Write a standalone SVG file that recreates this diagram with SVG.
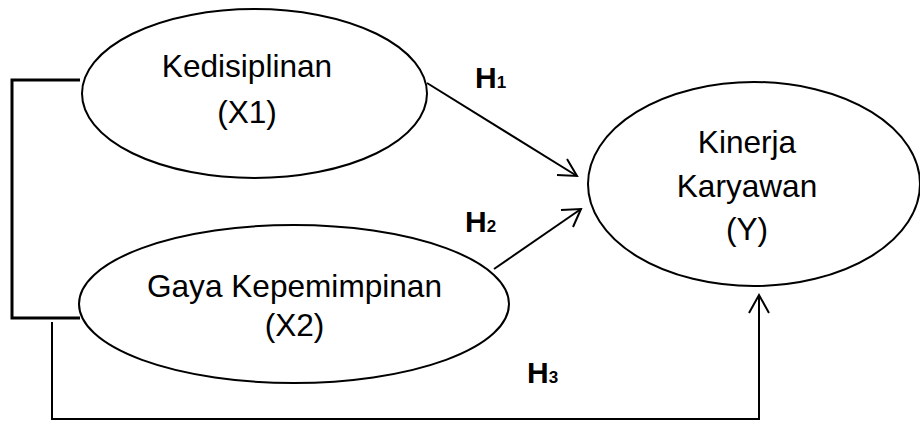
<svg xmlns="http://www.w3.org/2000/svg" width="920" height="421" viewBox="0 0 920 421">
<style>
.node{fill:#fff;stroke:#000;stroke-width:2}
.lbl{font-family:"Liberation Sans",Arial,sans-serif;font-size:31.6px;fill:#000;text-anchor:middle}
.h{font-family:"Liberation Sans",Arial,sans-serif;font-weight:bold;font-size:30px;fill:#000}
.sub{font-size:17px}
.ln{fill:none;stroke:#000;stroke-width:2}
.br{fill:none;stroke:#000;stroke-width:3}
</style>
<rect width="920" height="421" fill="#fff"/>
<g id="connectors">
<polyline class="br" points="80,80 12,80 12,318 80,318"/>
<polyline class="ln" points="52,322 52,419 759,419 759,296"/>
<polyline class="ln" points="749,313 759,295 769,313"/>
<line class="ln" x1="427" y1="83" x2="577" y2="176"/>
<polyline class="ln" points="557,175 577,176 567,159"/>
<line class="ln" x1="494" y1="269" x2="581" y2="209"/>
<polyline class="ln" points="561,210 581,209 573,227"/>
</g>
<g id="node-x1">
<ellipse class="node" cx="254.5" cy="93.5" rx="172.5" ry="84.5"/>
<text class="lbl" x="247" y="77">Kedisiplinan</text>
<text class="lbl" x="247" y="123">(X1)</text>
</g>
<g id="node-x2">
<ellipse class="node" cx="294" cy="304" rx="215" ry="79"/>
<text class="lbl" x="294.5" y="297">Gaya Kepemimpinan</text>
<text class="lbl" x="294.5" y="336">(X2)</text>
</g>
<g id="node-y">
<ellipse class="node" cx="754" cy="184" rx="166" ry="102"/>
<text class="lbl" x="747" y="153">Kinerja</text>
<text class="lbl" x="747" y="197">Karyawan</text>
<text class="lbl" x="747" y="240">(Y)</text>
</g>
<g id="labels">
<text class="h" x="475" y="88">H<tspan class="sub">1</tspan></text>
<text class="h" x="465" y="232">H<tspan class="sub">2</tspan></text>
<text class="h" x="527" y="383">H<tspan class="sub">3</tspan></text>
</g>
</svg>
